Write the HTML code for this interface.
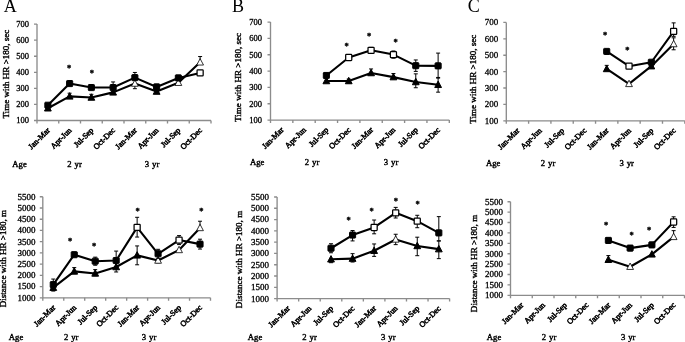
<!DOCTYPE html>
<html lang="en">
<head>
<meta charset="utf-8">
<title>Figure: time and distance with HR &gt;180</title>
<style>
html,body{margin:0;padding:0;background:#fff;}
body{width:685px;height:342px;overflow:hidden;}
svg{display:block;font-family:"Liberation Serif",serif;fill:#000;}
.tick{font-size:9.0px;stroke:#000;stroke-width:.3px;}
.cat text{font-size:8.0px;stroke:#000;stroke-width:.55px;}
.age text{font-size:8.7px;stroke:#000;stroke-width:.4px;word-spacing:.8px;}
.ttl{font-size:9.05px;stroke:#000;stroke-width:.4px;}
.panel{font-size:18px;}
.star text{font-size:8.5px;font-weight:bold;stroke:#000;stroke-width:.35px;}
</style>
</head>
<body>
<svg width="685" height="342" viewBox="0 0 685 342">
<rect width="685" height="342" fill="#fff"/>
<g class="chart">
<g stroke="#8c8c8c" stroke-width="1.35" fill="none">
<path d="M37 24.1 V120.5 H211"/>
<path d="M37 120.5h-3M37 104.43h-3M37 88.37h-3M37 72.3h-3M37 56.23h-3M37 40.17h-3M37 24.1h-3M37 120.5v3M58.75 120.5v3M80.5 120.5v3M102.25 120.5v3M124 120.5v3M145.75 120.5v3M167.5 120.5v3M189.25 120.5v3M211 120.5v3"/>
</g>
<g class="tick" text-anchor="end" style="font-size:8.5px">
<text x="29" y="123.4">100</text>
<text x="29" y="107.33">200</text>
<text x="29" y="91.27">300</text>
<text x="29" y="75.2">400</text>
<text x="29" y="59.13">500</text>
<text x="29" y="43.07">600</text>
<text x="29" y="27">700</text>
</g>
<g class="cat" text-anchor="end">
<text transform="translate(50.38 130.8) rotate(-45)">Jan-Mar</text>
<text transform="translate(72.12 130.8) rotate(-45)">Apr-Jun</text>
<text transform="translate(93.88 130.8) rotate(-45)">Jul-Sep</text>
<text transform="translate(115.62 130.8) rotate(-45)">Oct-Dec</text>
<text transform="translate(137.38 130.8) rotate(-45)">Jan-Mar</text>
<text transform="translate(159.12 130.8) rotate(-45)">Apr-Jun</text>
<text transform="translate(180.88 130.8) rotate(-45)">Jul-Sep</text>
<text transform="translate(202.62 130.8) rotate(-45)">Oct-Dec</text>
</g>
<g class="age">
<text x="12.3" y="166.8">Age</text>
<text x="74.5" y="166.8" text-anchor="middle">2 yr</text>
<text x="152" y="166.8" text-anchor="middle">3 yr</text>
</g>
<text class="ttl" text-anchor="middle" transform="translate(9.3 74.1) rotate(-90)">Time with HR >180, sec</text>
<text class="panel" x="3.8" y="11.85">A</text>
<path d="M69.62 96.4V93.19m-2 0h4M91.38 97.52V94.31m-2 0h4M134.88 83.55V88.69m-2 0h4M200.12 62.34V56.55m-2 0h4" stroke="#000" stroke-width="1" fill="none"/>
<polyline points="47.88,108.29 69.62,96.4 91.38,97.52 113.12,92.38 134.88,83.55 156.62,91.58 178.38,82.74 200.12,62.34" fill="none" stroke="#000" stroke-width="2.1" stroke-linejoin="round"/>
<path d="M47.88 104.59L51.27 111.01H44.48Z" fill="#000" stroke="#000" stroke-width="1"/>
<path d="M69.62 92.7L73.03 99.12H66.22Z" fill="#000" stroke="#000" stroke-width="1"/>
<path d="M91.38 93.82L94.78 100.24H87.97Z" fill="#000" stroke="#000" stroke-width="1"/>
<path d="M113.12 88.68L116.53 95.1H109.72Z" fill="#000" stroke="#000" stroke-width="1"/>
<path d="M134.88 79.85L138.28 86.27H131.47Z" fill="#fff" stroke="#000" stroke-width="0.8"/>
<path d="M156.62 87.88L160.03 94.3H153.22Z" fill="#000" stroke="#000" stroke-width="1"/>
<path d="M178.38 79.04L181.78 85.46H174.97Z" fill="#fff" stroke="#000" stroke-width="0.8"/>
<path d="M200.12 58.64L203.53 65.06H196.72Z" fill="#fff" stroke="#000" stroke-width="0.8"/>
<path d="M113.12 87.56V81.94m-2 0h4M134.88 77.6V72.46m-2 0h4" stroke="#000" stroke-width="1" fill="none"/>
<polyline points="47.88,105.24 69.62,83.55 91.38,87.56 113.12,87.56 134.88,77.6 156.62,86.92 178.38,77.92 200.12,72.94" fill="none" stroke="#000" stroke-width="2.1" stroke-linejoin="round"/>
<rect x="44.83" y="102.19" width="6.1" height="6.1" rx=".7" fill="#000" stroke="#000" stroke-width="1"/>
<rect x="66.58" y="80.5" width="6.1" height="6.1" rx=".7" fill="#000" stroke="#000" stroke-width="1"/>
<rect x="88.33" y="84.51" width="6.1" height="6.1" rx=".7" fill="#000" stroke="#000" stroke-width="1"/>
<rect x="110.08" y="84.51" width="6.1" height="6.1" rx=".7" fill="#000" stroke="#000" stroke-width="1"/>
<rect x="131.82" y="74.55" width="6.1" height="6.1" rx=".7" fill="#000" stroke="#000" stroke-width="1"/>
<rect x="153.57" y="83.87" width="6.1" height="6.1" rx=".7" fill="#000" stroke="#000" stroke-width="1"/>
<rect x="175.32" y="74.87" width="6.1" height="6.1" rx=".7" fill="#000" stroke="#000" stroke-width="1"/>
<rect x="197.07" y="69.89" width="6.1" height="6.1" rx=".7" fill="#fff" stroke="#000" stroke-width="1.25"/>
<g class="star" text-anchor="middle">
<text x="69.2" y="71.1">*</text>
<text x="91.8" y="76.1">*</text>
</g>
</g>
<g class="chart">
<g stroke="#8c8c8c" stroke-width="1.35" fill="none">
<path d="M270.5 22.05 V120.1 H449.3"/>
<path d="M270.5 120.1h-3M270.5 103.76h-3M270.5 87.42h-3M270.5 71.07h-3M270.5 54.73h-3M270.5 38.39h-3M270.5 22.05h-3M270.5 120.1v3M292.85 120.1v3M315.2 120.1v3M337.55 120.1v3M359.9 120.1v3M382.25 120.1v3M404.6 120.1v3M426.95 120.1v3M449.3 120.1v3"/>
</g>
<g class="tick" text-anchor="end" style="font-size:8.5px">
<text x="262" y="123">100</text>
<text x="262" y="106.66">200</text>
<text x="262" y="90.32">300</text>
<text x="262" y="73.97">400</text>
<text x="262" y="57.63">500</text>
<text x="262" y="41.29">600</text>
<text x="262" y="24.95">700</text>
</g>
<g class="cat" text-anchor="end">
<text transform="translate(284.18 130.4) rotate(-45)">Jan-Mar</text>
<text transform="translate(306.52 130.4) rotate(-45)">Apr-Jun</text>
<text transform="translate(328.88 130.4) rotate(-45)">Jul-Sep</text>
<text transform="translate(351.23 130.4) rotate(-45)">Oct-Dec</text>
<text transform="translate(373.57 130.4) rotate(-45)">Jan-Mar</text>
<text transform="translate(395.93 130.4) rotate(-45)">Apr-Jun</text>
<text transform="translate(418.27 130.4) rotate(-45)">Jul-Sep</text>
<text transform="translate(440.62 130.4) rotate(-45)">Oct-Dec</text>
</g>
<g class="age">
<text x="250" y="165">Age</text>
<text x="312" y="165" text-anchor="middle">2 yr</text>
<text x="391" y="165" text-anchor="middle">3 yr</text>
</g>
<text class="ttl" text-anchor="middle" transform="translate(241.3 77.4) rotate(-90)">Time with HR >180, sec</text>
<text class="panel" x="231.9" y="11.6">B</text>
<path d="M348.73 81.04V79.08m-2 0h4M348.73 81.04V83m-2 0h4M371.07 73.04V68.95m-2 0h4M371.07 73.04V74.67m-2 0h4M393.43 77.12V73.53m-2 0h4M393.43 77.12V78.76m-2 0h4M415.77 82.02V73.85m-2 0h4M415.77 82.02V87.74m-2 0h4M438.12 84.8V77.45m-2 0h4M438.12 84.8V92.16m-2 0h4" stroke="#000" stroke-width="1" fill="none"/>
<polyline points="326.38,81.04 348.73,81.04 371.07,73.04 393.43,77.12 415.77,82.02 438.12,84.8" fill="none" stroke="#000" stroke-width="2.1" stroke-linejoin="round"/>
<path d="M326.38 77.34L329.77 83.76H322.98Z" fill="#000" stroke="#000" stroke-width="1"/>
<path d="M348.73 77.34L352.12 83.76H345.33Z" fill="#000" stroke="#000" stroke-width="1"/>
<path d="M371.07 69.34L374.47 75.76H367.68Z" fill="#000" stroke="#000" stroke-width="1"/>
<path d="M393.43 73.42L396.82 79.84H390.03Z" fill="#000" stroke="#000" stroke-width="1"/>
<path d="M415.77 78.32L419.17 84.74H412.38Z" fill="#000" stroke="#000" stroke-width="1"/>
<path d="M438.12 81.1L441.52 87.52H434.73Z" fill="#000" stroke="#000" stroke-width="1"/>
<path d="M371.07 50.32V47.38m-2 0h4M371.07 50.32V53.26m-2 0h4M393.43 54.57V50.97m-2 0h4M393.43 54.57V58.17m-2 0h4M415.77 65.68V59.96m-2 0h4M415.77 65.68V71.4m-2 0h4M438.12 65.85V53.1m-2 0h4M438.12 65.85V78.1m-2 0h4" stroke="#000" stroke-width="1" fill="none"/>
<polyline points="326.38,75.49 348.73,57.51 371.07,50.32 393.43,54.57 415.77,65.68 438.12,65.85" fill="none" stroke="#000" stroke-width="2.1" stroke-linejoin="round"/>
<rect x="323.32" y="72.44" width="6.1" height="6.1" rx=".7" fill="#000" stroke="#000" stroke-width="1"/>
<rect x="345.68" y="54.46" width="6.1" height="6.1" rx=".7" fill="#fff" stroke="#000" stroke-width="1.25"/>
<rect x="368.02" y="47.27" width="6.1" height="6.1" rx=".7" fill="#fff" stroke="#000" stroke-width="1.25"/>
<rect x="390.38" y="51.52" width="6.1" height="6.1" rx=".7" fill="#fff" stroke="#000" stroke-width="1.25"/>
<rect x="412.72" y="62.63" width="6.1" height="6.1" rx=".7" fill="#000" stroke="#000" stroke-width="1"/>
<rect x="435.07" y="62.8" width="6.1" height="6.1" rx=".7" fill="#000" stroke="#000" stroke-width="1"/>
<g class="star" text-anchor="middle">
<text x="346.6" y="48.8">*</text>
<text x="369.2" y="38.9">*</text>
<text x="395.7" y="44.6">*</text>
</g>
</g>
<g class="chart">
<g stroke="#8c8c8c" stroke-width="1.35" fill="none">
<path d="M506.3 22.4 V120.8 H684.8"/>
<path d="M506.3 120.8h-3M506.3 104.4h-3M506.3 88h-3M506.3 71.6h-3M506.3 55.2h-3M506.3 38.8h-3M506.3 22.4h-3M506.3 120.8v3M528.61 120.8v3M550.92 120.8v3M573.24 120.8v3M595.55 120.8v3M617.86 120.8v3M640.17 120.8v3M662.49 120.8v3M684.8 120.8v3"/>
</g>
<g class="tick" text-anchor="end">
<text x="498.3" y="123.7">100</text>
<text x="498.3" y="107.3">200</text>
<text x="498.3" y="90.9">300</text>
<text x="498.3" y="74.5">400</text>
<text x="498.3" y="58.1">500</text>
<text x="498.3" y="41.7">600</text>
<text x="498.3" y="25.3">700</text>
</g>
<g class="cat" text-anchor="end">
<text transform="translate(519.96 131.1) rotate(-45)">Jan-Mar</text>
<text transform="translate(542.27 131.1) rotate(-45)">Apr-Jun</text>
<text transform="translate(564.58 131.1) rotate(-45)">Jul-Sep</text>
<text transform="translate(586.89 131.1) rotate(-45)">Oct-Dec</text>
<text transform="translate(609.21 131.1) rotate(-45)">Jan-Mar</text>
<text transform="translate(631.52 131.1) rotate(-45)">Apr-Jun</text>
<text transform="translate(653.83 131.1) rotate(-45)">Jul-Sep</text>
<text transform="translate(676.14 131.1) rotate(-45)">Oct-Dec</text>
</g>
<g class="age">
<text x="486" y="165.6">Age</text>
<text x="548" y="165.6" text-anchor="middle">2 yr</text>
<text x="626.7" y="165.6" text-anchor="middle">3 yr</text>
</g>
<text class="ttl" text-anchor="middle" transform="translate(476.3 79.2) rotate(-90)">Time with HR >180, sec</text>
<text class="panel" x="467.7" y="11.7">C</text>
<path d="M606.71 68.98V65.37m-2 0h4M673.64 44.05V37.82m-2 0h4M673.64 44.05V49.79m-2 0h4" stroke="#000" stroke-width="1" fill="none"/>
<polyline points="606.71,68.98 629.02,83.9 651.33,66.19 673.64,44.05" fill="none" stroke="#000" stroke-width="2.1" stroke-linejoin="round"/>
<path d="M606.71 65.28L610.11 71.7H603.31Z" fill="#000" stroke="#000" stroke-width="1"/>
<path d="M629.02 80.2L632.42 86.62H625.62Z" fill="#fff" stroke="#000" stroke-width="0.8"/>
<path d="M651.33 62.49L654.73 68.91H647.93Z" fill="#000" stroke="#000" stroke-width="1"/>
<path d="M673.64 40.35L677.04 46.77H670.24Z" fill="#fff" stroke="#000" stroke-width="0.8"/>
<path d="M673.64 31.42V22.89m-2 0h4M673.64 31.42V36.34m-2 0h4" stroke="#000" stroke-width="1" fill="none"/>
<polyline points="606.71,51.43 629.02,66.19 651.33,62.25 673.64,31.42" fill="none" stroke="#000" stroke-width="2.1" stroke-linejoin="round"/>
<rect x="603.66" y="48.38" width="6.1" height="6.1" rx=".7" fill="#000" stroke="#000" stroke-width="1"/>
<rect x="625.97" y="63.14" width="6.1" height="6.1" rx=".7" fill="#fff" stroke="#000" stroke-width="1.25"/>
<rect x="648.28" y="59.2" width="6.1" height="6.1" rx=".7" fill="#000" stroke="#000" stroke-width="1"/>
<rect x="670.59" y="28.37" width="6.1" height="6.1" rx=".7" fill="#fff" stroke="#000" stroke-width="1.25"/>
<g class="star" text-anchor="middle">
<text x="605" y="38.1">*</text>
<text x="627.3" y="52.6">*</text>
</g>
</g>
<g class="chart">
<g stroke="#8c8c8c" stroke-width="1.35" fill="none">
<path d="M42.8 196.75 V297.8 H210.5"/>
<path d="M42.8 297.8h-3M42.8 286.57h-3M42.8 275.34h-3M42.8 264.12h-3M42.8 252.89h-3M42.8 241.66h-3M42.8 230.43h-3M42.8 219.21h-3M42.8 207.98h-3M42.8 196.75h-3M42.8 297.8v3M63.76 297.8v3M84.72 297.8v3M105.69 297.8v3M126.65 297.8v3M147.61 297.8v3M168.57 297.8v3M189.54 297.8v3M210.5 297.8v3"/>
</g>
<g class="tick" text-anchor="end">
<text x="35.4" y="300.7">1000</text>
<text x="35.4" y="289.47">1500</text>
<text x="35.4" y="278.24">2000</text>
<text x="35.4" y="267.02">2500</text>
<text x="35.4" y="255.79">3000</text>
<text x="35.4" y="244.56">3500</text>
<text x="35.4" y="233.33">4000</text>
<text x="35.4" y="222.11">4500</text>
<text x="35.4" y="210.88">5000</text>
<text x="35.4" y="199.65">5500</text>
</g>
<g class="cat" text-anchor="end">
<text transform="translate(55.78 308.1) rotate(-45)">Jan-Mar</text>
<text transform="translate(76.74 308.1) rotate(-45)">Apr-Jun</text>
<text transform="translate(97.71 308.1) rotate(-45)">Jul-Sep</text>
<text transform="translate(118.67 308.1) rotate(-45)">Oct-Dec</text>
<text transform="translate(139.63 308.1) rotate(-45)">Jan-Mar</text>
<text transform="translate(160.59 308.1) rotate(-45)">Apr-Jun</text>
<text transform="translate(181.56 308.1) rotate(-45)">Jul-Sep</text>
<text transform="translate(202.52 308.1) rotate(-45)">Oct-Dec</text>
</g>
<g class="age">
<text x="8.8" y="339.6">Age</text>
<text x="71.2" y="339.6" text-anchor="middle">2 yr</text>
<text x="149" y="339.6" text-anchor="middle">3 yr</text>
</g>
<text class="ttl" text-anchor="middle" transform="translate(6.3 258.6) rotate(-90)">Distance with HR >180, m</text>
<path d="M53.28 287.69V284.33m-2 0h4M53.28 287.69V291.06m-2 0h4M74.24 271.41V267.6m-2 0h4M74.24 271.41V273.66m-2 0h4M95.21 273.44V269.62m-2 0h4M95.21 273.44V275.68m-2 0h4M116.17 267.04V271.98m-2 0h4M137.13 255.36V245.93m-2 0h4M137.13 255.36V264.79m-2 0h4M158.09 260.52V262.77m-2 0h4M200.02 227.96V221.23m-2 0h4" stroke="#000" stroke-width="1" fill="none"/>
<polyline points="53.28,287.69 74.24,271.41 95.21,273.44 116.17,267.04 137.13,255.36 158.09,260.52 179.06,249.97 200.02,227.96" fill="none" stroke="#000" stroke-width="2.1" stroke-linejoin="round"/>
<path d="M53.28 284L56.68 290.42H49.88Z" fill="#000" stroke="#000" stroke-width="1"/>
<path d="M74.24 267.71L77.64 274.13H70.84Z" fill="#000" stroke="#000" stroke-width="1"/>
<path d="M95.21 269.74L98.61 276.16H91.81Z" fill="#000" stroke="#000" stroke-width="1"/>
<path d="M116.17 263.34L119.57 269.76H112.77Z" fill="#000" stroke="#000" stroke-width="1"/>
<path d="M137.13 251.66L140.53 258.08H133.73Z" fill="#000" stroke="#000" stroke-width="1"/>
<path d="M158.09 256.82L161.49 263.24H154.69Z" fill="#fff" stroke="#000" stroke-width="0.8"/>
<path d="M179.06 246.27L182.46 252.69H175.66Z" fill="#fff" stroke="#000" stroke-width="0.8"/>
<path d="M200.02 224.26L203.42 230.68H196.62Z" fill="#fff" stroke="#000" stroke-width="0.8"/>
<path d="M53.28 284.66V279.05m-2 0h4M53.28 284.66V290.28m-2 0h4M95.21 261.2V257.16m-2 0h4M95.21 261.2V265.24m-2 0h4M116.17 260.52V251.09m-2 0h4M116.17 260.52V267.26m-2 0h4M137.13 227.4V217.3m-2 0h4M137.13 227.4V237.06m-2 0h4M158.09 253.79V249.3m-2 0h4M158.09 253.79V258.28m-2 0h4M179.06 240.09V235.6m-2 0h4M179.06 240.09V244.58m-2 0h4M200.02 244.13V239.19m-2 0h4M200.02 244.13V249.07m-2 0h4" stroke="#000" stroke-width="1" fill="none"/>
<polyline points="53.28,284.66 74.24,254.69 95.21,261.2 116.17,260.52 137.13,227.4 158.09,253.79 179.06,240.09 200.02,244.13" fill="none" stroke="#000" stroke-width="2.1" stroke-linejoin="round"/>
<rect x="50.23" y="281.61" width="6.1" height="6.1" rx=".7" fill="#000" stroke="#000" stroke-width="1"/>
<rect x="71.19" y="251.64" width="6.1" height="6.1" rx=".7" fill="#000" stroke="#000" stroke-width="1"/>
<rect x="92.16" y="258.15" width="6.1" height="6.1" rx=".7" fill="#000" stroke="#000" stroke-width="1"/>
<rect x="113.12" y="257.47" width="6.1" height="6.1" rx=".7" fill="#000" stroke="#000" stroke-width="1"/>
<rect x="134.08" y="224.35" width="6.1" height="6.1" rx=".7" fill="#fff" stroke="#000" stroke-width="1.25"/>
<rect x="155.04" y="250.74" width="6.1" height="6.1" rx=".7" fill="#000" stroke="#000" stroke-width="1"/>
<rect x="176.01" y="237.04" width="6.1" height="6.1" rx=".7" fill="#fff" stroke="#000" stroke-width="1.25"/>
<rect x="196.97" y="241.08" width="6.1" height="6.1" rx=".7" fill="#000" stroke="#000" stroke-width="1"/>
<g class="star" text-anchor="middle">
<text x="70.1" y="243.9">*</text>
<text x="94.1" y="249.1">*</text>
<text x="137.5" y="213.5">*</text>
<text x="201.4" y="213.5">*</text>
</g>
</g>
<g class="chart">
<g stroke="#8c8c8c" stroke-width="1.35" fill="none">
<path d="M277.1 197 V298.6 H449.6"/>
<path d="M277.1 298.6h-3M277.1 287.31h-3M277.1 276.02h-3M277.1 264.73h-3M277.1 253.44h-3M277.1 242.16h-3M277.1 230.87h-3M277.1 219.58h-3M277.1 208.29h-3M277.1 197h-3M277.1 298.6v3M298.66 298.6v3M320.23 298.6v3M341.79 298.6v3M363.35 298.6v3M384.91 298.6v3M406.48 298.6v3M428.04 298.6v3M449.6 298.6v3"/>
</g>
<g class="tick" text-anchor="end">
<text x="269.1" y="301.5">1000</text>
<text x="269.1" y="290.21">1500</text>
<text x="269.1" y="278.92">2000</text>
<text x="269.1" y="267.63">2500</text>
<text x="269.1" y="256.34">3000</text>
<text x="269.1" y="245.06">3500</text>
<text x="269.1" y="233.77">4000</text>
<text x="269.1" y="222.48">4500</text>
<text x="269.1" y="211.19">5000</text>
<text x="269.1" y="199.9">5500</text>
</g>
<g class="cat" text-anchor="end">
<text transform="translate(290.38 308.9) rotate(-45)">Jan-Mar</text>
<text transform="translate(311.94 308.9) rotate(-45)">Apr-Jun</text>
<text transform="translate(333.51 308.9) rotate(-45)">Jul-Sep</text>
<text transform="translate(355.07 308.9) rotate(-45)">Oct-Dec</text>
<text transform="translate(376.63 308.9) rotate(-45)">Jan-Mar</text>
<text transform="translate(398.19 308.9) rotate(-45)">Apr-Jun</text>
<text transform="translate(419.76 308.9) rotate(-45)">Jul-Sep</text>
<text transform="translate(441.32 308.9) rotate(-45)">Oct-Dec</text>
</g>
<g class="age">
<text x="247.8" y="339.6">Age</text>
<text x="309.5" y="339.6" text-anchor="middle">2 yr</text>
<text x="388.3" y="339.6" text-anchor="middle">3 yr</text>
</g>
<text class="ttl" text-anchor="middle" transform="translate(242.1 259.5) rotate(-90)">Distance with HR >180, m</text>
<path d="M331.01 259.31V262.7m-2 0h4M352.57 258.64V253.67m-2 0h4M352.57 258.64V262.02m-2 0h4M374.13 250.74V243.96m-2 0h4M374.13 250.74V256.38m-2 0h4M395.69 239.45V234.25m-2 0h4M395.69 239.45V244.64m-2 0h4M417.26 245.99V237.19m-2 0h4M417.26 245.99V255.7m-2 0h4M438.82 249.15V241.03m-2 0h4M438.82 249.15V258.64m-2 0h4" stroke="#000" stroke-width="1" fill="none"/>
<polyline points="331.01,259.31 352.57,258.64 374.13,250.74 395.69,239.45 417.26,245.99 438.82,249.15" fill="none" stroke="#000" stroke-width="2.1" stroke-linejoin="round"/>
<path d="M331.01 255.61L334.41 262.03H327.61Z" fill="#000" stroke="#000" stroke-width="1"/>
<path d="M352.57 254.94L355.97 261.36H349.17Z" fill="#000" stroke="#000" stroke-width="1"/>
<path d="M374.13 247.04L377.53 253.46H370.73Z" fill="#000" stroke="#000" stroke-width="1"/>
<path d="M395.69 235.75L399.09 242.17H392.29Z" fill="#fff" stroke="#000" stroke-width="0.8"/>
<path d="M417.26 242.29L420.66 248.71H413.86Z" fill="#000" stroke="#000" stroke-width="1"/>
<path d="M438.82 245.45L442.22 251.87H435.42Z" fill="#000" stroke="#000" stroke-width="1"/>
<path d="M331.01 248.25V243.74m-2 0h4M331.01 248.25V252.77m-2 0h4M352.57 235.04V230.53m-2 0h4M352.57 235.04V240.91m-2 0h4M374.13 227.48V220.03m-2 0h4M374.13 227.48V233.8m-2 0h4M395.69 212.8V207.39m-2 0h4M395.69 212.8V218m-2 0h4M417.26 221.16V215.29m-2 0h4M417.26 221.16V227.71m-2 0h4M438.82 232.9V216.64m-2 0h4M438.82 232.9V240.8m-2 0h4" stroke="#000" stroke-width="1" fill="none"/>
<polyline points="331.01,248.25 352.57,235.04 374.13,227.48 395.69,212.8 417.26,221.16 438.82,232.9" fill="none" stroke="#000" stroke-width="2.1" stroke-linejoin="round"/>
<rect x="327.96" y="245.2" width="6.1" height="6.1" rx=".7" fill="#000" stroke="#000" stroke-width="1"/>
<rect x="349.52" y="231.99" width="6.1" height="6.1" rx=".7" fill="#000" stroke="#000" stroke-width="1"/>
<rect x="371.08" y="224.43" width="6.1" height="6.1" rx=".7" fill="#fff" stroke="#000" stroke-width="1.25"/>
<rect x="392.64" y="209.75" width="6.1" height="6.1" rx=".7" fill="#fff" stroke="#000" stroke-width="1.25"/>
<rect x="414.21" y="218.11" width="6.1" height="6.1" rx=".7" fill="#fff" stroke="#000" stroke-width="1.25"/>
<rect x="435.77" y="229.85" width="6.1" height="6.1" rx=".7" fill="#000" stroke="#000" stroke-width="1"/>
<g class="star" text-anchor="middle">
<text x="348.7" y="223.4">*</text>
<text x="371.6" y="213.7">*</text>
<text x="395.9" y="203.8">*</text>
<text x="417.5" y="207.3">*</text>
</g>
</g>
<g class="chart">
<g stroke="#8c8c8c" stroke-width="1.35" fill="none">
<path d="M510.5 201.75 V295.3 H684.5"/>
<path d="M510.5 295.3h-3M510.5 284.91h-3M510.5 274.51h-3M510.5 264.12h-3M510.5 253.72h-3M510.5 243.33h-3M510.5 232.93h-3M510.5 222.54h-3M510.5 212.14h-3M510.5 201.75h-3M510.5 295.3v3M532.25 295.3v3M554 295.3v3M575.75 295.3v3M597.5 295.3v3M619.25 295.3v3M641 295.3v3M662.75 295.3v3M684.5 295.3v3"/>
</g>
<g class="tick" text-anchor="end">
<text x="503" y="298.2">1000</text>
<text x="503" y="287.81">1500</text>
<text x="503" y="277.41">2000</text>
<text x="503" y="267.02">2500</text>
<text x="503" y="256.62">3000</text>
<text x="503" y="246.23">3500</text>
<text x="503" y="235.83">4000</text>
<text x="503" y="225.44">4500</text>
<text x="503" y="215.04">5000</text>
<text x="503" y="204.65">5500</text>
</g>
<g class="cat" text-anchor="end">
<text transform="translate(523.88 305.6) rotate(-45)">Jan-Mar</text>
<text transform="translate(545.62 305.6) rotate(-45)">Apr-Jun</text>
<text transform="translate(567.38 305.6) rotate(-45)">Jul-Sep</text>
<text transform="translate(589.12 305.6) rotate(-45)">Oct-Dec</text>
<text transform="translate(610.88 305.6) rotate(-45)">Jan-Mar</text>
<text transform="translate(632.62 305.6) rotate(-45)">Apr-Jun</text>
<text transform="translate(654.38 305.6) rotate(-45)">Jul-Sep</text>
<text transform="translate(676.12 305.6) rotate(-45)">Oct-Dec</text>
</g>
<g class="age">
<text x="486.8" y="339.6">Age</text>
<text x="549" y="339.6" text-anchor="middle">2 yr</text>
<text x="628.2" y="339.6" text-anchor="middle">3 yr</text>
</g>
<text class="ttl" text-anchor="middle" transform="translate(477.1 263.5) rotate(-90)">Distance with HR >180, m</text>
<path d="M608.38 259.75V255.59m-2 0h4M673.62 236.88V230.65m-2 0h4" stroke="#000" stroke-width="1" fill="none"/>
<polyline points="608.38,259.75 630.12,266.72 651.88,254.35 673.62,236.88" fill="none" stroke="#000" stroke-width="2.1" stroke-linejoin="round"/>
<path d="M608.38 256.05L611.77 262.47H604.98Z" fill="#000" stroke="#000" stroke-width="1"/>
<path d="M630.12 263.02L633.52 269.44H626.73Z" fill="#fff" stroke="#000" stroke-width="0.8"/>
<path d="M651.88 250.65L655.27 257.07H648.48Z" fill="#000" stroke="#000" stroke-width="1"/>
<path d="M673.62 233.18L677.02 239.6H670.23Z" fill="#fff" stroke="#000" stroke-width="0.8"/>
<path d="M673.62 222.02V216.82m-2 0h4M673.62 222.02V227.42m-2 0h4" stroke="#000" stroke-width="1" fill="none"/>
<polyline points="608.38,240.42 630.12,248.11 651.88,244.89 673.62,222.02" fill="none" stroke="#000" stroke-width="2.1" stroke-linejoin="round"/>
<rect x="605.33" y="237.37" width="6.1" height="6.1" rx=".7" fill="#000" stroke="#000" stroke-width="1"/>
<rect x="627.08" y="245.06" width="6.1" height="6.1" rx=".7" fill="#000" stroke="#000" stroke-width="1"/>
<rect x="648.83" y="241.84" width="6.1" height="6.1" rx=".7" fill="#000" stroke="#000" stroke-width="1"/>
<rect x="670.58" y="218.97" width="6.1" height="6.1" rx=".7" fill="#fff" stroke="#000" stroke-width="1.25"/>
<g class="star" text-anchor="middle">
<text x="606.2" y="228.2">*</text>
<text x="631.5" y="237.7">*</text>
<text x="649.2" y="232.7">*</text>
</g>
</g>
</svg>
</body>
</html>
